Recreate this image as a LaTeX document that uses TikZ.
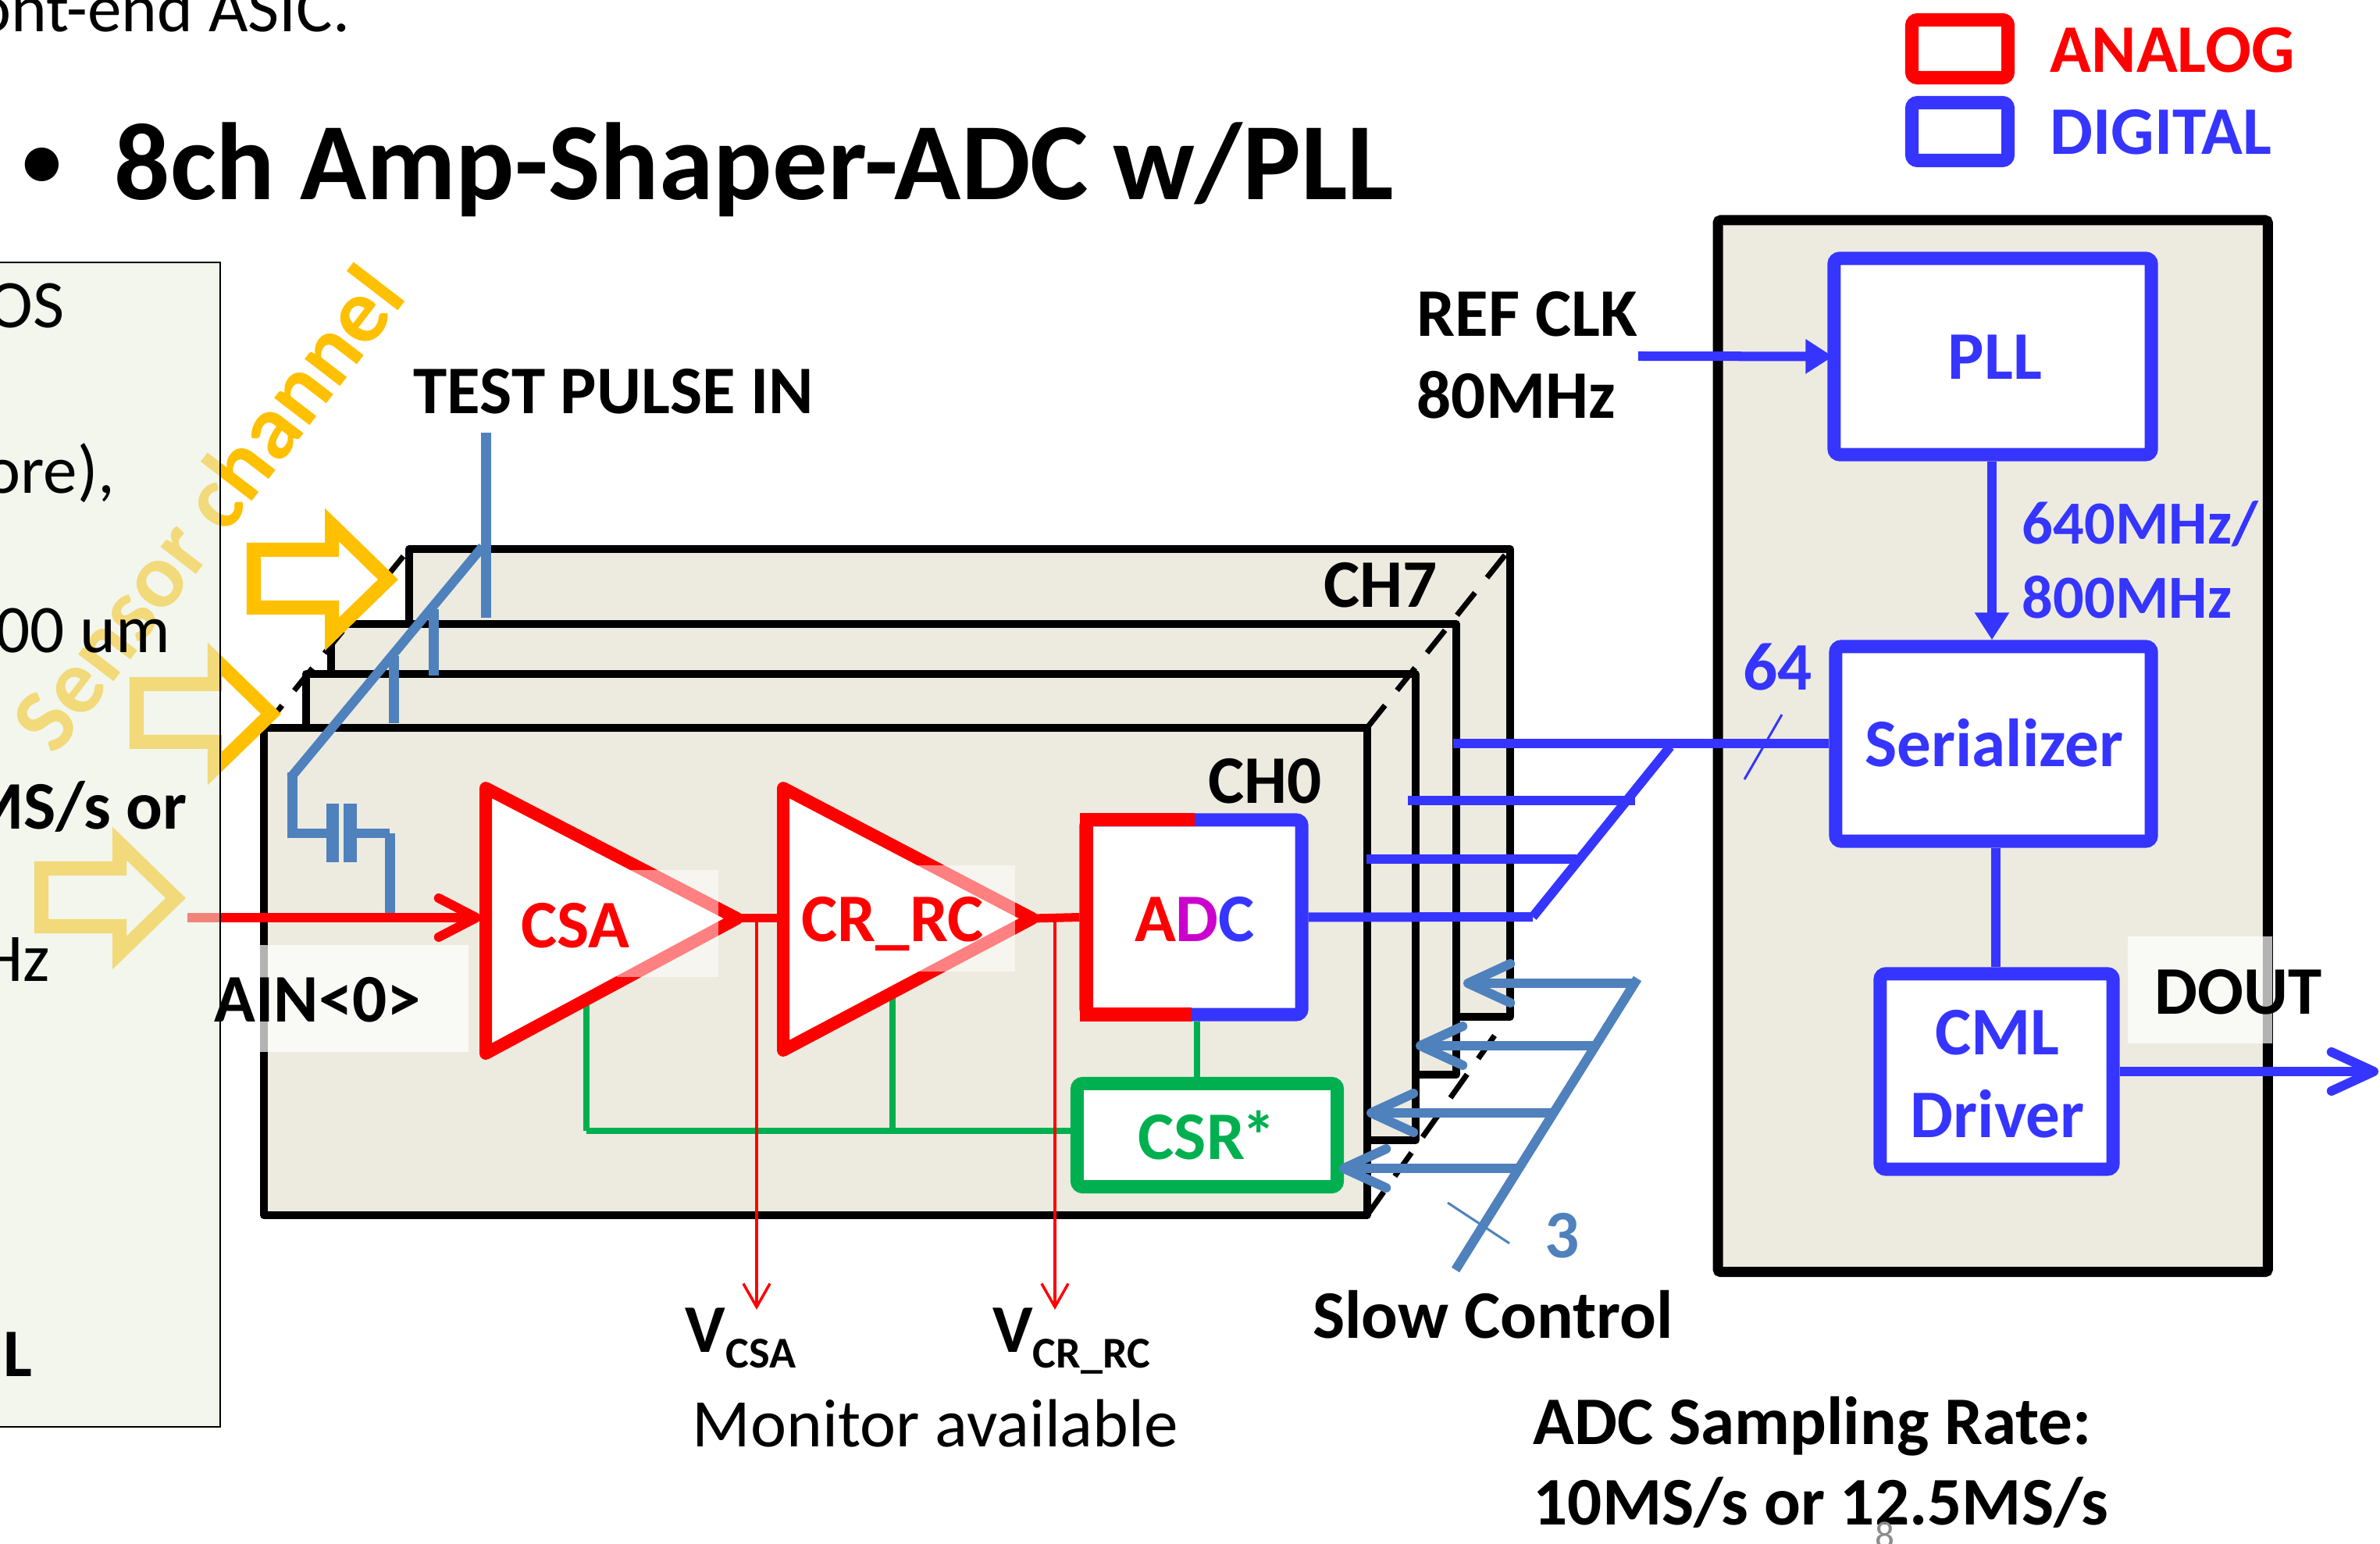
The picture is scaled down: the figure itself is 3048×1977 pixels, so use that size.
\documentclass[tikz,border=0pt]{standalone}
\usepackage{fontspec}
\setmainfont{Carlito}
\usetikzlibrary{arrows.meta}
\definecolor{ana}{HTML}{FF0000}
\definecolor{dig}{HTML}{3535FF}
\definecolor{sc}{HTML}{4F81BD}
\definecolor{grn}{HTML}{00B050}
\definecolor{yel}{HTML}{FFC000}
\definecolor{tan}{HTML}{EDEBE0}
\definecolor{pnl}{HTML}{E9EFE0}
\definecolor{mag}{HTML}{CC00CC}
\tikzset{
  lw/.style={line width=#1*0.2845pt},
  blk/.style={inner sep=0pt,yshift=-0.57pt,font=\bfseries\fontsize{24.8}{28}\selectfont},
  blks/.style={inner sep=0pt,yshift=-0.57pt,font=\bfseries\fontsize{22.3}{26}\selectfont},
  reg/.style={inner sep=0pt,yshift=-0.57pt,font=\fontsize{24.8}{28}\selectfont},
  ttl/.style={inner sep=0pt,font=\bfseries\fontsize{40}{46}\selectfont},
  sub/.style={inner sep=0pt,yshift=-0.57pt,font=\bfseries\fontsize{16}{18}\selectfont},
  chbox/.style={draw=black,fill=tan,lw=10,line join=round,outer sep=0pt,minimum width=#1},
  bigbox/.style={draw=black,fill=tan,lw=13,rounded corners=1pt,outer sep=0pt},
  digbox/.style={draw=dig,fill=white,lw=17,rounded corners=2pt},
  anabox/.style={draw=ana,fill=white,lw=17,rounded corners=2pt},
  grnbox/.style={draw=grn,fill=white,lw=17,rounded corners=2pt},
  tri/.style={draw=ana,fill=white,lw=16,line join=round},
  dashline/.style={draw=black,lw=7,dash pattern=on 10.5pt off 7pt},
  yarrow/.style={draw=#1,lw=18,miter limit=10},
  veil/.style={fill=white,draw=none,fill opacity=#1},
  dline/.style={draw=dig,lw=12},
  sline/.style={draw=sc,lw=12},
  gline/.style={draw=grn,lw=8},
  rline/.style={draw=ana,lw=11},
  thin sl/.style={lw=3},
  barb/.style={-{Straight Barb[length=15.4pt,width=14.2pt,round]}},
  solid tip/.style={-{Triangle[length=10pt,width=12pt]}},
}
\newcommand{\blockarrow}[2]{% shift x,y ; block arrow outline
  \draw[yarrow=yel,shift={(#1*0.01cm,#2*-0.01cm)}] (325,704) -- (425,704) -- (425,672) -- (497,742) -- (425,812) -- (425,778) -- (325,778) -- cycle;}
\begin{document}
\begin{tikzpicture}[x=0.01cm,y=-0.01cm]
\useasboundingbox (0,0) rectangle (3048,1977);
\fill[white] (0,0) rectangle (3048,1977);

% title
\node[reg,anchor=base east] (topline) at (449,39) {ont-end ASIC.};
\node[inner sep=0pt,font=\bfseries\fontsize{29}{34}\selectfont,anchor=base] (bullet) at (54,240) {•};
\node[ttl,anchor=base west] (title) at (146,256) {8ch Amp-Shaper-ADC w/PLL};

% channel stack
\node[chbox=1409*0.2845pt,minimum height=599*0.2845pt,anchor=north west] (ch7) at (524,703) {};
\node[chbox=1440*0.2845pt,minimum height=577*0.2845pt,anchor=north west] (ch2) at (424,799) {};
\node[chbox=1420*0.2845pt,minimum height=597*0.2845pt,anchor=north west] (ch1) at (392,863) {};
\node[chbox=1412*0.2845pt,minimum height=624*0.2845pt,anchor=north west] (ch0) at (338,932) {};
\coordinate (dtr0) at (ch0.north east); \coordinate (dtr7) at (ch7.north east);
\coordinate (dbr0) at (ch0.south east); \coordinate (dbr7) at (1914,1326);
\coordinate (dtl0) at (ch0.north west); \coordinate (dtl7) at (ch7.north west);
\path[dashline] (dtr0) -- (dtr7);
\path[dashline] (dbr0) -- (dbr7);
\path[dashline] (dtl0) -- (dtl7);
\node[blk,anchor=base] (l7) at (1768,776) {CH7};
\node[blk,anchor=base] (l0) at (1620,1027) {CH0};

% yellow: sensor channel
\node[inner sep=0pt,text=yel,rotate=52.5,font=\bfseries\fontsize{33.5}{40}\selectfont] (sens) at (265,650) {Sensor channel};
\blockarrow{0}{0}
\blockarrow{-150}{172}
\blockarrow{-272}{408}

% analog chain
\coordinate (t1a) at (622,1009); \coordinate (t1b) at (622,1349); \coordinate (t1c) at (944,1176);
\coordinate (t2a) at (1003,1009); \coordinate (t2b) at (1003,1345); \coordinate (t2c) at (1322,1176);
\coordinate (inst) at (240,1175);\coordinate (inen) at (616,1175);
\coordinate (tmon1) at (969,1176); \coordinate (tmon2) at (1351,1176);

% ADC, CSR: boxes
\node[digbox,minimum width=276*0.2845pt,minimum height=249*0.2845pt] (adc) at (1529,1174.5) {};
\path[draw=ana,lw=17,line cap=butt] (1526,1299) -- (1391,1299) -- (1391,1050) -- (1530,1050);
\node[grnbox,minimum width=333*0.2845pt,minimum height=132*0.2845pt] (csr) at (1546,1453.5) {};

% green control
\coordinate (g1t) at (751,1277); \coordinate (g2t) at (1143,1275); \coordinate (gl) at (751,1448);
\draw[gline] (g1t) -- (gl);
\draw[gline] (gl) -- (gl -| csr.west);
\draw[gline] (g2t) -- (g2t |- gl);
\draw[gline] (adc.south -| 1533,0) -- (csr.north -| 1533,0);

% test pulse
\coordinate (tptop) at (622,554); \coordinate (tpe) at (622,791);
\coordinate (tpa) at (618,700); \coordinate (tpb) at (372,996);
\coordinate (tpc) at (374,1067); \coordinate (tpd) at (499,1067); \coordinate (tpf) at (499,1169);
\draw[sc,lw=13] (tptop) -- (tpe);
\draw[sc,lw=13] (555,780) -- (555,865);
\draw[sc,lw=13] (504,840) -- (504,926);
\draw[sc,lw=12] (tpa) -- (tpb);
\draw[sc,lw=13,line cap=rect] (374,996) -- (tpc);
\coordinate (cp1) at (426,1067); \coordinate (cp2) at (448,1067);
\draw[sc,lw=12] (tpc) -- (cp1);
\draw[sc,lw=12] (cp2) -- (tpd);
\draw[sc,lw=13] (tpd) -- (tpf);
\draw[sc,lw=16] (426,1029) -- (426,1104);
\draw[sc,lw=17] (448,1029) -- (448,1104);

% triangles and chain
\draw[rline,lw=12,-{Straight Barb[length=13.7pt,width=14.2pt,round]}] (inst) -- (inen);
\path[tri] (t1a) -- (t1c) -- (t1b) -- cycle;
\path[tri] (t2a) -- (t2c) -- (t2b) -- cycle;
\draw[rline] (t1c) -- (t2a |- t1c);
\draw[rline] (t2c) -- (adc.west);
\draw[ana,lw=3.5,-{Straight Barb[length=8.5pt,width=9.7pt]}] (tmon1) -- (969,1677);
\draw[ana,lw=3.5,-{Straight Barb[length=8.5pt,width=9.7pt]}] (tmon2) -- (1351,1677);
\fill[veil=0.5] (790,1114) rectangle (920,1251);
\fill[veil=0.5] (1175,1108) rectangle (1300,1244);
\node[blk,text=ana,anchor=base] (csa) at (737,1211) {CSA};
\node[blk,text=ana,anchor=base] (crrc) at (1143,1203) {CR\_RC};
\node[blk,anchor=base] (adct) at (1530,1203) {\textcolor{ana}{A}\textcolor{mag}{D}\textcolor{dig}{C}};
\node[blk,text=grn,anchor=base] (csrt) at (1546,1482) {CSR\kern-1pt*};

% 64 bus
\coordinate (b1) at (1963,1174); \coordinate (b2) at (2019,1100); \coordinate (b3) at (2094,1025); \coordinate (b4) at (2139,956);
\draw[dline,line cap=butt] (adc.east) -- (b1);
\draw[dline] (1750,1100) -- (b2);
\draw[dline] (1803,1025) -- (b3);
\draw[dline,line cap=butt] (b1) -- (b4);

% right block
\node[bigbox,minimum width=704*0.2845pt,minimum height=1346*0.2845pt,anchor=north west] (right) at (2200,282) {};
\node[digbox,minimum width=406*0.2845pt,minimum height=251*0.2845pt] (pll) at (2552,456.5) {};
\node[digbox,minimum width=404*0.2845pt,minimum height=249*0.2845pt] (ser) at (2553,952.5) {};
\node[digbox,minimum width=298*0.2845pt,minimum height=250*0.2845pt] (cml) at (2557,1372) {};
\coordinate (refst) at (2098,456); \coordinate (doutend) at (3046,1372);
\coordinate (sl0) at (1861,952);
\draw[dline] (sl0) -- (ser.west |- sl0);
\draw[dline,solid tip] (refst) -- ([xshift=2pt]pll.west);
\draw[dline,solid tip] (pll.south -| 2551,0) -- (ser.north -| 2551,0);
\draw[dline] (ser.south -| 2556,0) -- (cml.north -| 2556,0);
\draw[dline,barb] (cml.east) -- (doutend);
\draw[dig,thin sl] (2234,998) -- (2282,915);
\fill[veil=0.7] (2725,1199) rectangle (2910,1336);
\node[blk,anchor=base] (dout) at (2867,1296) {DOUT};
\node[blk,text=dig,anchor=base] (pllt) at (2555,484) {PLL};
\node[blk,text=dig,anchor=base] (sert) at (2554,980) {Serializer};
\node[blk,text=dig,anchor=base] (cmlt) at (2558,1348) {CML};
\node[blk,text=dig,anchor=base] (drvt) at (2558,1454) {Driver};
\node[blks,text=dig,anchor=base west] (f1) at (2589,695) {640MHz/};
\node[blks,text=dig,anchor=base west] (f2) at (2589,790) {800MHz};
\node[blk,text=dig,anchor=base west] (n64) at (2232,882) {64};

% slow control
\coordinate (s0) at (1864,1626); \coordinate (s1) at (2097,1253);
\coordinate (s2) at (1944,1496); \coordinate (s3) at (1989,1425); \coordinate (s4) at (2046,1339); \coordinate (s5) at (2097,1259);
\coordinate (s6) at (1715,1496); \coordinate (s7) at (1750,1425); \coordinate (s8) at (1813,1339); \coordinate (s9) at (1874,1259);
\draw[sline,barb] (s2) -- (s6);
\draw[sline,barb] (s3) -- (s7);
\draw[sline,barb] (s4) -- (s8);
\draw[sline,barb] (s5) -- (s9);
\draw[sline,line cap=butt] (s0) -- (s1);
\draw[sc,thin sl] (1854,1540) -- (1933,1592);
\node[blk,text=sc,anchor=base] (n3) at (2001,1608) {3};
\node[blk,anchor=base] (slow) at (1912,1711) {Slow Control};

% legend
\node[anabox,minimum width=123*0.2845pt,minimum height=74*0.2845pt,anchor=center] (lga) at (2510,62.5) {};
\node[digbox,minimum width=123*0.2845pt,minimum height=74*0.2845pt,anchor=center] (lgd) at (2510,168.5) {};
\node[blk,text=ana,anchor=base west] (lgat) at (2625,91) {ANALOG};
\node[blk,text=dig,anchor=base west] (lgdt) at (2625,196) {DIGITAL};

% left panel veil over yellow and red
\fill[pnl,fill opacity=0.55] (-10,336) rectangle (282,1827);
\draw[black,lw=2.5] (-10,336) -- (282,336) -- (282,1827) -- (-10,1827);
\node[reg,anchor=base east] (p1) at (83,418) {OS};
\node[reg,anchor=base east] (p2) at (148,630) {ore),};
\node[reg,anchor=base east] (p3) at (219,834) {00 um};
\node[blk,anchor=base east] (p4) at (240,1059) {MS/s or};
\node[reg,anchor=base east] (p5) at (65,1254) {Hz};
\node[blk,anchor=base east] (p6) at (42,1760) {L};

% AIN
\fill[veil=0.7] (332,1210) rectangle (600,1347);
\node[blk,anchor=base] (ain) at (407,1306) {AIN<0>};

% other labels
\node[blk,anchor=base] (tpin) at (786,528) {TEST PULSE IN};
\node[blk,anchor=base west] (ref1) at (1814,429) {REF CLK};
\node[blk,anchor=base west] (ref2) at (1814,534) {80MHz};
\node[blk,anchor=base west] (vcsa) at (877,1729) {V};
\node[sub,anchor=base west] (vcsas) at (929,1749) {CSA};
\node[blk,anchor=base west] (vcr) at (1271,1729) {V};
\node[sub,anchor=base west] (vcrs) at (1322,1749) {CR\_RC};
\node[reg,anchor=base] (mon) at (1198,1850) {Monitor available};
\node[blk,anchor=base west] (rate1) at (1963,1847) {ADC Sampling Rate:};
\node[blk,anchor=base west] (rate2) at (1963,1950) {10MS/s or 12.5MS/s};
\node[inner sep=0pt,text=black!45,font=\fontsize{14}{16}\selectfont,anchor=base] (page) at (2414,1982) {8};
\end{tikzpicture}
\end{document}
